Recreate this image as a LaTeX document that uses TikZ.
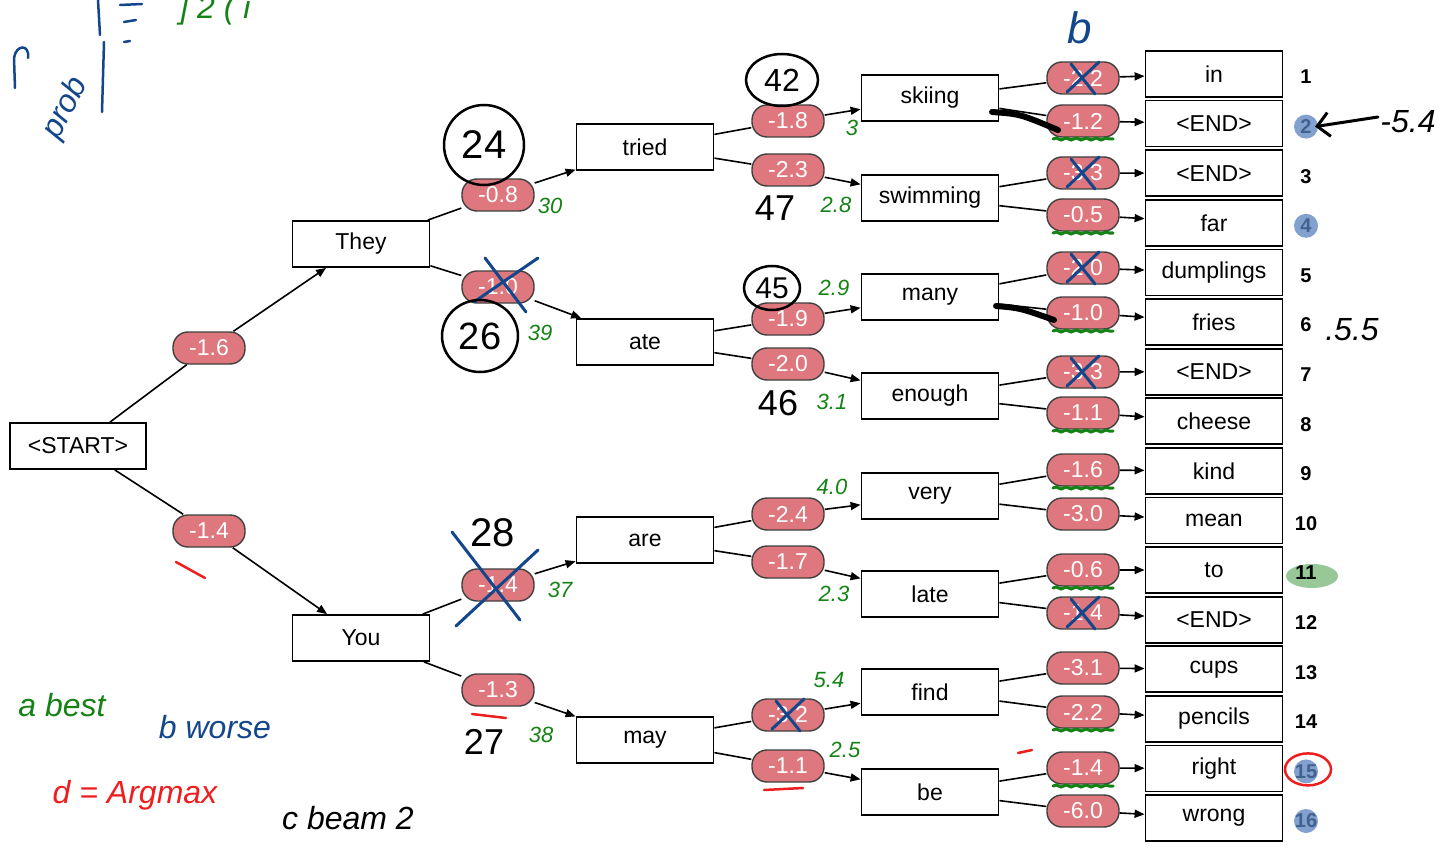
\documentclass[tikz,border=0pt]{standalone}
\usepackage{fontspec}
\setmainfont{Liberation Sans}
\usetikzlibrary{arrows.meta}
\usetikzlibrary{calc}
\usetikzlibrary{decorations.pathmorphing}

\definecolor{pillred}{RGB}{222,120,126}
\definecolor{inkblue}{RGB}{20,70,140}
\definecolor{inkgreen}{RGB}{20,130,20}
\definecolor{inkred}{RGB}{238,30,30}
\definecolor{dotblue}{RGB}{90,130,190}

\begin{document}
\begin{tikzpicture}[x=1pt,y=-1pt,
% tree
    word/.style={rectangle,draw,line width=1.8pt,fill=white,minimum width=137pt,
		minimum height=46pt,inner sep=0pt,font={\fontsize{23}{26}\selectfont}},
    score/.style={rectangle,rounded corners=15pt,draw=black!75,line width=1.4pt,
		fill=pillred,text=white,minimum width=72pt,minimum height=32pt,inner sep=0pt,
		font={\fontsize{23}{26}\selectfont}},
    rank/.style={font={\bfseries\fontsize{20}{24}\selectfont}},
    link/.style={line width=1.6pt},
    arr/.style={line width=1.6pt,-{Triangle[length=10pt,width=8pt]}},
% ink
    hand/.style={font={\itshape\fontsize{32}{34}\selectfont}},
    small hand/.style={font={\itshape\fontsize{22}{24}\selectfont}},
    cross/.style={inkblue,line width=3pt,line cap=round},
    wiggle/.style={inkgreen,line width=3pt,line cap=round,
		decorate,decoration={snake,amplitude=1pt,segment length=10pt}},
    stroke/.style={line width=2.5pt,line cap=round}
    ]

  \path[use as bounding box] (0,0) rectangle (1440,853);

  \node (start) [word,minimum width=136pt] at (78,446) {<START>};

  % first words
  \foreach \nm/\lbl/\y/\s/\sy in {they/They/244/-1.6/348, you/You/638/-1.4/531}
  {
    \node (\nm) [word] at (361,\y) {\lbl};
    \node (p-\nm) [score] at (209,\sy) {\s};
    \draw[link] (start) -- (p-\nm);
    \draw[arr] (p-\nm) -- (\nm);
  }

  % second words
  \foreach \nm/\y/\s/\sy/\up in {tried/147/-0.8/195/they, ate/342/-1.0/287/they,
      are/540/-1.4/585/you, may/740/-1.3/690/you}
  {
    \node (\nm) [word] at (645,\y) {\nm};
    \node (p-\nm) [score] at (498,\sy) {\s};
    \draw[link] (\up) -- (p-\nm);
    \draw[arr] (p-\nm) -- (\nm);
  }

  % third words
  \foreach \nm/\y/\s/\sy/\up in {skiing/98/-1.8/121/tried, swimming/198/-2.3/170/tried,
      many/297/-1.9/319/ate, enough/396/-2.0/364/ate,
      very/496/-2.4/514/are, late/594/-1.7/562/are,
      find/692/-3.2/715/may, be/792/-1.1/766/may}
  {
    \node (\nm) [word] at (930,\y) {\nm};
    \node (p-\nm) [score] at (788,\sy) {\s};
    \draw[link] (\up) -- (p-\nm);
    \draw[arr] (p-\nm) -- (\nm);
  }

  % last words
  \foreach \n/\w/\s/\sy/\up in {1/in/-2.2/78/skiing, 2/<END>/-1.2/121/skiing,
      3/<END>/-3.3/173/swimming, 4/far/-0.5/215/swimming,
      5/dumplings/-2.0/268/many, 6/fries/-1.0/313/many,
      7/<END>/-3.3/372/enough, 8/cheese/-1.1/413/enough,
      9/kind/-1.6/470/very, 10/mean/-3.0/514/very,
      11/to/-0.6/570/late, 12/<END>/-1.4/613/late,
      13/cups/-3.1/668/find, 14/pencils/-2.2/712/find,
      15/right/-1.4/768/be, 16/wrong/-6.0/811/be}
  {
    \node (w\n) [word] at (1214,{74+(\n-1)*49.6}) {\w};
    \node (q\n) [score] at (1083,\sy) {\s};
    \node (r\n) [rank] at (1306,{77+(\n-1)*49.6}) {\n};
    \draw[link] (\up) -- (q\n);
    \draw[arr] (q\n) -- (w\n);
  }

  % --- ink on top ---
  \foreach \p in {q1,q3,q5,q7,q12,p-find}
    \draw[cross] ($(\p)+(-16,14)$) -- ($(\p)+(16,-16)$) ($(\p)+(-12,-14)$) -- ($(\p)+(12,16)$);
  \draw[cross] (474,302) -- (538,258) (485,258) -- (526,312);
  \draw[cross] (456,626) -- (538,550) (452,532) -- (520,620);

  \foreach \p in {q2,q4,q6,q8,q9,q11,q14,q15}
    \draw[wiggle] ($(\p)+(-30,18)$) -- ($(\p)+(30,18)$);

  \foreach \r in {r2,r4,r15,r16}
    \fill[dotblue,opacity=0.75] (\r) circle (12);
  \fill[inkgreen!55,opacity=0.8] ($(r11)+(6,3)$) ellipse (26 and 12);
  \node[rank] at (r11) {11};
  \draw[inkred,stroke] ($(r15)+(2,-2)$) ellipse (23 and 16);

  % thick black marks
  \draw[stroke,line width=6pt] (992,112) .. controls (1020,114) .. (1058,130);
  \draw[stroke,line width=6pt] (996,306) .. controls (1020,308) .. (1054,320);
  \draw[stroke,line width=3pt,-{Straight Barb[length=12pt]}] (1378,117) -- (r2.east);
  \node (m54) [hand] at (1408,122) {-5.4};
  \node (m55) [hand] at (1352,330) {.5.5};

  % circled and plain counts
  \node (c24) [font={\fontsize{40}{40}\selectfont}] at (484,145) {24};
  \draw[stroke] (c24) ellipse (40 and 40);
  \node (c42) [font={\fontsize{32}{32}\selectfont}] at (782,80) {42};
  \draw[stroke] (c42) ellipse (36 and 26);
  \node (c45) [font={\fontsize{30}{30}\selectfont}] at (772,288) {45};
  \draw[stroke] (c45) ellipse (28 and 22);
  \node (c26) [font={\fontsize{38}{38}\selectfont}] at (480,336) {26};
  \draw[stroke] (c26) ellipse (38 and 36);
  \node (c28) [font={\fontsize{40}{40}\selectfont}] at (493,533) {28};
  \node (c47) [font={\fontsize{36}{36}\selectfont}] at (775,208) {47};
  \node (c46) [font={\fontsize{36}{36}\selectfont}] at (778,403) {46};
  \node (c27) [font={\fontsize{36}{36}\selectfont}] at (484,742) {27};

  % green sums
  \foreach \x/\y/\t in {550/206/30, 852/128/3, 836/205/2.8, 834/288/2.9, 832/402/3.1,
      540/333/39, 560/590/37, 832/487/4.0, 834/594/2.3, 541/735/38, 829/680/5.4, 845/750/2.5}
    \node[small hand,inkgreen] at (\x,\y) {\t};

  % red ticks
  \draw[inkred,stroke] (176,562) -- (205,578);
  \draw[inkred,stroke] (472,714) -- (506,718);
  \draw[inkred,stroke] (764,790) -- (803,788);
  \draw[inkred,stroke] (1018,753) -- (1032,750);

  % margin notes
  \node (nb) [hand,inkblue,font={\itshape\fontsize{44}{44}\selectfont}] at (1080,28) {b};
  \node (prob) [hand,inkblue,rotate=62] at (66,108) {prob};
  \draw[inkblue,stroke] (14,58) .. controls (16,44) and (30,44) .. (28,58) (14,58) -- (15,88);
  \draw[inkblue,stroke] (98,0) -- (100,35) (104,42) -- (102,112);
  \draw[inkblue,stroke] (120,5) -- (142,4) (124,22) -- (136,20) (124,42) -- (130,41);
  \node (top) [hand,inkgreen] at (215,10) {] 2 ( i};
  \node (best) [hand,inkgreen] at (62,705) {a best};
  \node (worse) [hand,inkblue] at (215,727) {b worse};
  \node (argmax) [hand,inkred] at (135,795) {d = Argmax};
  \node (beam) [hand] at (348,818) {c beam 2};

\end{tikzpicture}
\end{document}
